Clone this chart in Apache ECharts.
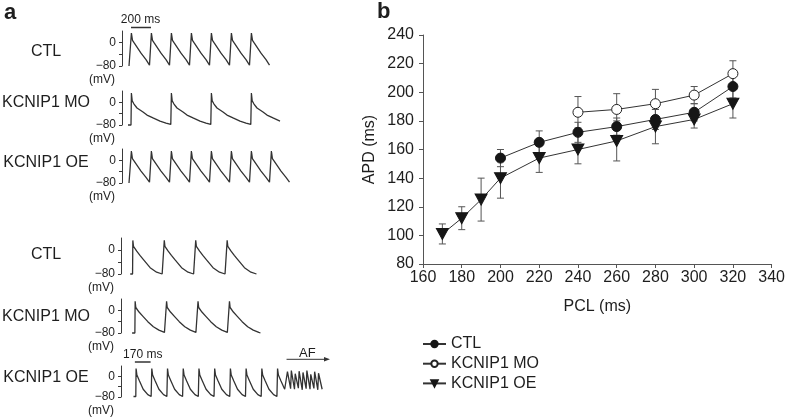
<!DOCTYPE html>
<html><head><meta charset="utf-8">
<script src="https://cdn.jsdelivr.net/npm/echarts@6/dist/echarts.min.js"></script>
<style>html,body{margin:0;padding:0;background:#fff}#c{width:788px;height:417px}</style>
</head><body><div id="c"></div>
<script>
// ---------- Panel b data ----------
const pcl = [170, 180, 190, 200, 220, 240, 260, 280, 300, 320];
const ctlAPD = [null, null, null, 154, 165, 172, 176, 181, 186, 204];
const ctlErr = [null, null, null, 6, 8, 7, 6, 7, 6, 8];
const moAPD = [null, null, null, null, null, 186, 188, 192, 198, 213];
const moErr = [null, null, null, null, null, 11, 11, 10, 6, 9];
const oeAPD = [101, 112, 125, 140, 154, 160, 166, 176, 181, 192];
const oeErr = [7, 8, 15, 14, 10, 10, 14, 12, 6, 10];
const xTicks = [160, 340, 20];
const yTicks = [80, 240, 20];

// ---------- Panel a data (time ms, membrane potential mV) ----------
const rowLabels = ['CTL', 'KCNIP1 MO', 'KCNIP1 OE', 'CTL', 'KCNIP1 MO', 'KCNIP1 OE'];
const ctl1Onsets = [90, 290, 490, 690, 890, 1090, 1290];
const ctl1Shape = [[0, -80], [4, 33], [15, 8], [30, 0], [100, -36], [150, -58], [185, -77], [198, -80]];
const mo1Onsets = [90, 490, 890, 1290];
const mo1Shape = [[0, -80], [4, 33], [12, 5], [30, -6], [60, -20], [120, -34], [160, -45], [220, -55], [290, -66], [350, -73], [398, -78]];
const oe1Onsets = [90, 290, 490, 690, 890, 1090, 1290, 1490];
const oe1Shape = [[0, -80], [4, 33], [14, 6], [30, -2], [100, -38], [150, -60], [185, -77], [198, -80]];
const ctl2Onsets = [125, 465, 805, 1145];
const ctl2Shape = [[0, -80], [3, 32], [10, 12], [45, -4], [80, -18], [120, -33], [190, -59], [260, -74], [320, -80], [338, -80]];
const mo2Onsets = [150, 490, 830, 1170];
const mo2Shape = [[0, -80], [3, 32], [10, 10], [45, -6], [90, -22], [140, -40], [200, -58], [260, -70], [320, -78], [338, -80]];
const oe2Onsets = [160, 330, 500, 670, 840, 1010, 1180, 1350, 1520, 1690];
const oe2Shape = [[0, -78], [3, 30], [12, 5], [40, -18], [80, -50], [130, -71], [166, -78]];
const afTrace = [[1790, -46], [1800, 18], [1834, -48], [1842, 22], [1876, -50], [1884, 10], [1918, -46], [1926, 20], [1960, -52], [1968, 15], [2002, -48], [2010, 22], [2044, -50], [2052, 8], [2086, -47], [2094, 18], [2128, -52], [2136, 12], [2175, -50]];
const traceStartEnd = [[70, 1480], [60, 1580], [70, 1680], [100, 1480], [120, 1510], [135, 1770]];
const scaleBarTop = [90, 290];      // 200 ms
const scaleBarBottom = [150, 320];  // 170 ms
const afRange = [1790, 2260];

function buildTrace(se, onsets, shape, extra) {
  const pts = [[se[0], shape[0][1]]];
  onsets.forEach(o => shape.forEach(([dt, v]) => { if (o + dt <= se[1]) pts.push([o + dt, v]); }));
  return extra ? pts.concat(extra) : pts;
}
const traces = [
  buildTrace(traceStartEnd[0], ctl1Onsets, ctl1Shape),
  buildTrace(traceStartEnd[1], mo1Onsets, mo1Shape),
  buildTrace(traceStartEnd[2], oe1Onsets, oe1Shape),
  buildTrace(traceStartEnd[3], ctl2Onsets, ctl2Shape),
  buildTrace(traceStartEnd[4], mo2Onsets, mo2Shape),
  buildTrace(traceStartEnd[5], oe2Onsets, oe2Shape, afTrace)
];

const FONT = '"Liberation Sans", Arial, Helvetica, sans-serif';
const INK = '#1e1e1e';
const AX = '#3a3a3a';

const rowGrids = [
  {left: 122, top: 31, width: 170, height: 35, xmax: 1700},
  {left: 122, top: 91, width: 170, height: 34, xmax: 1700},
  {left: 122, top: 149, width: 170, height: 34, xmax: 1700},
  {left: 121, top: 238, width: 209, height: 36, xmax: 2260},
  {left: 121, top: 299, width: 209, height: 34, xmax: 2260},
  {left: 121, top: 366, width: 209, height: 33, xmax: 2260}
];

const grids = [], xAxes = [], yAxes = [], series = [];
rowGrids.forEach((g, i) => {
  grids.push({left: g.left, top: g.top, width: g.width, height: g.height, containLabel: false});
  xAxes.push({gridIndex: i, type: 'value', min: 0, max: g.xmax, show: false});
  yAxes.push({
    gridIndex: i, type: 'value', min: -80, max: 40, interval: 40,
    axisLine: {show: true, lineStyle: {color: AX, width: 1}},
    axisTick: {show: true, length: 3, customValues: [-80, -40, 0], lineStyle: {color: AX}},
    axisLabel: {show: true, customValues: [-80, 0], margin: 6, fontSize: 12, fontFamily: FONT, color: INK,
      formatter: v => v === 0 ? '0' : (v === -80 ? '\u221280' : '')},
    splitLine: {show: false},
    name: '(mV)', nameLocation: 'start', nameGap: 8,
    nameTextStyle: {fontSize: 12, fontFamily: FONT, color: INK, align: 'right', padding: [0, 7, 0, 0]}
  });
  series.push({
    type: 'line', xAxisIndex: i, yAxisIndex: i, data: traces[i], showSymbol: false, symbol: 'none',
    lineStyle: {color: '#333', width: 1.3}, silent: true, clip: false
  });
});

// Panel b grid
const B = rowGrids.length;
grids.push({left: 423, top: 35, width: 351, height: 229, containLabel: false});
xAxes.push({
  gridIndex: B, type: 'value', min: xTicks[0], max: xTicks[1], interval: xTicks[2],
  axisLine: {show: true, onZero: false, lineStyle: {color: '#555'}},
  axisTick: {show: true, length: 4, lineStyle: {color: '#555'}},
  axisLabel: {fontSize: 16, fontFamily: FONT, color: INK, margin: 6},
  splitLine: {show: false},
  name: 'PCL (ms)', nameLocation: 'middle', nameGap: 35,
  nameTextStyle: {fontSize: 16, fontFamily: FONT, color: INK}
});
yAxes.push({
  gridIndex: B, type: 'value', min: yTicks[0], max: yTicks[1], interval: yTicks[2],
  axisLine: {show: true, lineStyle: {color: '#555'}},
  axisTick: {show: true, length: 4, lineStyle: {color: '#555'}},
  axisLabel: {fontSize: 16, fontFamily: FONT, color: INK, margin: 9},
  splitLine: {show: false},
  name: 'APD (ms)', nameLocation: 'middle', nameGap: 45,
  nameTextStyle: {fontSize: 16, fontFamily: FONT, color: INK}
});

function pairs(vals) { return pcl.map((x, i) => [x, vals[i]]).filter(d => d[1] != null); }
function errData(vals, errs) { return pcl.map((x, i) => vals[i] == null ? null : [x, vals[i] - errs[i], vals[i] + errs[i]]).filter(Boolean); }
function errSeries(vals, errs) {
  return {
    type: 'custom', xAxisIndex: B, yAxisIndex: B, data: errData(vals, errs), z: 1, silent: true,
    encode: {x: 0, y: [1, 2]},
    renderItem: (params, api) => {
      const x = api.value(0);
      const lo = api.coord([x, api.value(1)]);
      const hi = api.coord([x, api.value(2)]);
      const st = {stroke: '#555', lineWidth: 1};
      return {type: 'group', children: [
        {type: 'line', shape: {x1: lo[0], y1: lo[1], x2: hi[0], y2: hi[1]}, style: st},
        {type: 'line', shape: {x1: lo[0] - 3.5, y1: lo[1], x2: lo[0] + 3.5, y2: lo[1]}, style: st},
        {type: 'line', shape: {x1: hi[0] - 3.5, y1: hi[1], x2: hi[0] + 3.5, y2: hi[1]}, style: st}
      ]};
    }
  };
}
series.push(errSeries(ctlAPD, ctlErr), errSeries(moAPD, moErr), errSeries(oeAPD, oeErr));
series.push({
  name: 'CTL', type: 'line', xAxisIndex: B, yAxisIndex: B, data: pairs(ctlAPD), z: 3,
  symbol: 'circle', symbolSize: 10, lineStyle: {color: '#333', width: 1},
  itemStyle: {color: '#161616', borderColor: '#161616', borderWidth: 1}
}, {
  name: 'KCNIP1 MO', type: 'line', xAxisIndex: B, yAxisIndex: B, data: pairs(moAPD), z: 3,
  symbol: 'circle', symbolSize: 10, lineStyle: {color: '#333', width: 1},
  itemStyle: {color: '#fff', borderColor: '#222', borderWidth: 1}
}, {
  name: 'KCNIP1 OE', type: 'line', xAxisIndex: B, yAxisIndex: B, data: pairs(oeAPD), z: 3,
  symbol: 'triangle', symbolRotate: 180, symbolSize: [12, 11], lineStyle: {color: '#333', width: 1},
  itemStyle: {color: '#161616', borderColor: '#161616', borderWidth: 1}
});

const chart = echarts.init(document.getElementById('c'));
chart.setOption({
  animation: false,
  backgroundColor: '#fff',
  textStyle: {fontFamily: FONT},
  grid: grids, xAxis: xAxes, yAxis: yAxes, series: series,
  legend: {
    data: ['CTL', 'KCNIP1 MO', 'KCNIP1 OE'], orient: 'vertical', left: 422, top: 336,
    itemWidth: 23, itemHeight: 8, itemGap: 3.7, padding: 0,
    textStyle: {fontSize: 16, fontFamily: FONT, color: INK, lineHeight: 12}
  }
});

// Annotations positioned through the chart's own coordinate system
const px = (g, pt) => chart.convertToPixel({gridIndex: g}, pt);
const gfx = [];
const txt = (x, y, s, size, weight, align) => ({type: 'text', x, y, silent: true,
  style: {text: s, fontSize: size, fontWeight: weight || 'normal', fontFamily: FONT, fill: INK, align: align || 'center', verticalAlign: 'middle'}});
gfx.push(txt(4, 13, 'a', 22, 'bold', 'left'));
gfx.push(txt(377, 12, 'b', 22, 'bold', 'left'));
const labelY = [51.7, 103, 163, 255, 317, 378];
rowLabels.forEach((s, i) => gfx.push(txt(46, labelY[i], s, 16)));
// 200 ms scale bar
let a = px(0, [scaleBarTop[0], 40]), b = px(0, [scaleBarTop[1], 40]);
let yb = a[1] - 3.5;
gfx.push({type: 'line', silent: true, shape: {x1: a[0], y1: yb, x2: b[0], y2: yb}, style: {stroke: '#333', lineWidth: 1.5}});
gfx.push(txt((a[0] + b[0]) / 2 - 0.5, yb - 7.7, '200 ms', 12));
// 170 ms scale bar
a = px(5, [scaleBarBottom[0], 40]); b = px(5, [scaleBarBottom[1], 40]);
yb = a[1] - 4;
gfx.push({type: 'line', silent: true, shape: {x1: a[0], y1: yb, x2: b[0], y2: yb}, style: {stroke: '#333', lineWidth: 1.5}});
gfx.push(txt((a[0] + b[0]) / 2, yb - 7, '170 ms', 12));
// AF arrow
a = px(5, [afRange[0], 40]); b = px(5, [afRange[1], 40]);
yb = a[1] - 6.7;
gfx.push({type: 'line', silent: true, shape: {x1: a[0], y1: yb, x2: b[0] - 4, y2: yb}, style: {stroke: '#333', lineWidth: 1}});
gfx.push({type: 'polygon', silent: true, shape: {points: [[b[0], yb], [b[0] - 6, yb - 2.3], [b[0] - 6, yb + 2.3]]}, style: {fill: '#333'}});
gfx.push(txt((a[0] + b[0]) / 2 - 1, yb - 5.5, 'AF', 13));
chart.setOption({graphic: gfx});
</script>
</body></html>
